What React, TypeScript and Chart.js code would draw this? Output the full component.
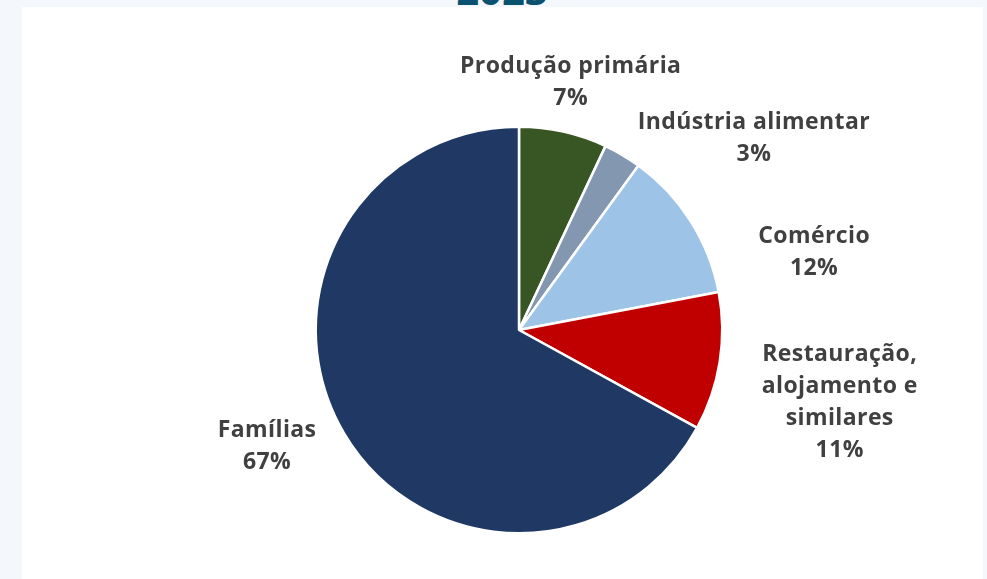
import React, { useEffect, useRef } from "react";
import { Chart, registerables } from "chart.js";

Chart.register(...registerables);

const categories: string[] = [
  "Produção primária",
  "Indústria alimentar",
  "Comércio",
  "Restauração,\nalojamento e\nsimilares",
  "Famílias",
];
const values: number[] = [7, 3, 12, 11, 67];
const colors: string[] = ["#375623", "#8497b0", "#9dc3e6", "#c00000", "#203864"];
const titleText = "2023";

// label placement: angle nudge (deg, clockwise) from slice mid-angle, distance as multiple of radius
const labelAngleNudge: number[] = [-0.85, 20.2, 17.7, 3.8, 5.9];
const labelDistance: number[] = [1.245, 1.492, 1.502, 1.619, 1.367];
const LABEL_BASE_RADIUS = 203;

const outsideLabels = {
  id: "outsideLabels",
  afterDatasetsDraw(chart: any) {
    const ctx = chart.ctx as CanvasRenderingContext2D;
    const meta = chart.getDatasetMeta(0);
    const data = chart.data.datasets[0].data as number[];
    const total = data.reduce((a, b) => a + b, 0);
    const lh = 32;
    ctx.save();
    ctx.font = "bold 23px 'Open Sans'";
    (ctx as any).letterSpacing = "0.4px";
    ctx.fillStyle = "#404040";
    ctx.textAlign = "center";
    ctx.textBaseline = "middle";
    meta.data.forEach((arc: any, i: number) => {
      const p = arc.getProps(["x", "y", "startAngle", "endAngle"], true);
      const mid = (p.startAngle + p.endAngle) / 2 + (labelAngleNudge[i] * Math.PI) / 180;
      const d = LABEL_BASE_RADIUS * labelDistance[i];
      const cx = p.x + Math.cos(mid) * d;
      const cy = p.y + Math.sin(mid) * d;
      const lines = String(chart.data.labels[i]).split("\n");
      lines.push(Math.round((data[i] / total) * 100) + "%");
      const n = lines.length;
      lines.forEach((ln, k) => {
        ctx.fillText(ln, cx + 0.2, cy + (k - (n - 1) / 2) * lh);
      });
    });
    ctx.restore();
  },
};

export default function App() {
  const ref = useRef<HTMLCanvasElement | null>(null);
  useEffect(() => {
    if (!ref.current) return;
    const chart = new Chart(ref.current, {
      type: "pie",
      data: {
        labels: categories,
        datasets: [
          {
            data: values,
            backgroundColor: colors,
            borderColor: "#ffffff",
            borderWidth: 2.5,
          },
        ],
      },
      options: {
        responsive: false,
        animation: false,
        layout: { padding: { left: 33, right: 0, top: 118.5, bottom: 44.5 } },
        plugins: {
          legend: { display: false },
          tooltip: { enabled: false },
          title: { display: false },
        },
      },
      plugins: [outsideLabels],
    });
    return () => chart.destroy();
  }, []);

  return (
    <div
      style={{
        position: "fixed",
        left: 0,
        top: 0,
        width: 987,
        height: 579,
        overflow: "hidden",
        background: "#f4f8fd",
      }}
    >
      <div
        style={{
          position: "absolute",
          left: 0,
          width: 1004,
          top: -30.5,
          textAlign: "center",
          font: "bold 40px 'Open Sans'",
          lineHeight: "40px",
          color: "#0b5170",
        }}
      >
        {titleText}
      </div>
      <div
        style={{
          position: "absolute",
          left: 22,
          top: 7,
          width: 961,
          height: 572,
          background: "#ffffff",
        }}
      >
        <canvas ref={ref} width={961} height={572} style={{ display: "block" }} />
      </div>
    </div>
  );
}
